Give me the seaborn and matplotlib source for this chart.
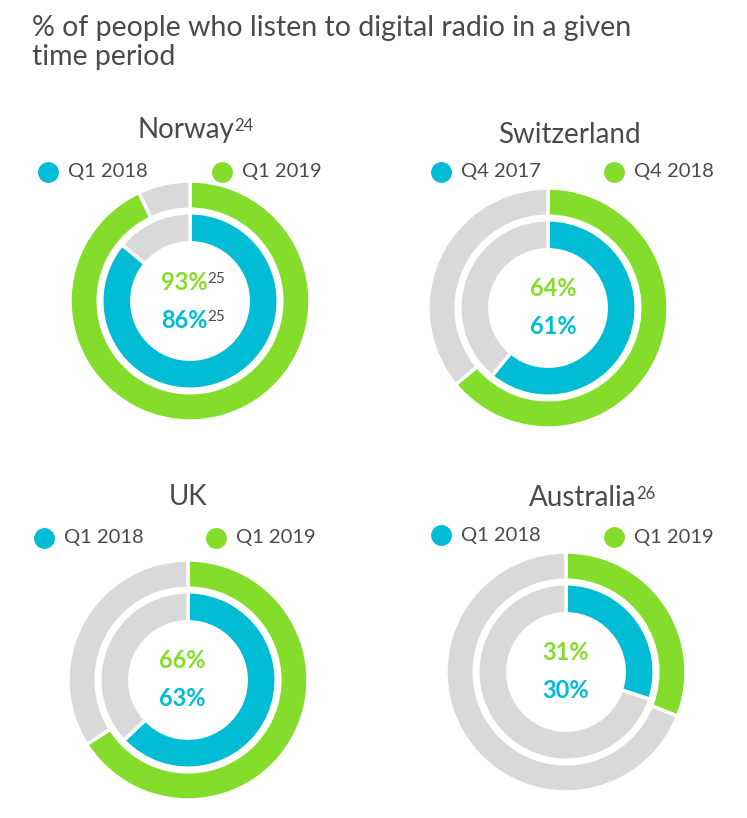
import matplotlib
matplotlib.use("Agg")
import matplotlib.pyplot as plt
from matplotlib.lines import Line2D
import seaborn as sns

# data
countries = ["Norway", "Switzerland", "UK", "Australia"]
title_notes = ["24", "", "", "26"]
inner_labels = ["Q1 2018", "Q4 2017", "Q1 2018", "Q1 2018"]
outer_labels = ["Q1 2019", "Q4 2018", "Q1 2019", "Q1 2019"]
inner_values = [86, 61, 63, 30]
outer_values = [93, 64, 66, 31]
value_notes = ["25", "", "", ""]

sns.set_theme(style="white")
plt.rcParams["font.family"] = ["Lato", "DejaVu Sans"]

TEAL = "#00BCD4"
GREEN = "#84DD2A"
GREY = "#D9D9D9"
TXT = "#4A4A4A"

W, H = 747, 818
fig = plt.figure(figsize=(W / 100, H / 100), dpi=100)
fig.patch.set_facecolor("white")

def px(x, y):
    return x / W, 1 - y / H

fig.text(*px(32, 28), "% of people who listen to digital radio in a given",
         fontsize=20.5, color=TXT, va="center", ha="left")
fig.text(*px(32, 57), "time period",
         fontsize=20.5, color=TXT, va="center", ha="left")

# layout (pixels): pie centre, title centre, legend dot positions
centres = [(190, 301), (548, 308), (188, 680), (566, 672)]
title_pos = [(186, 130), (569, 135), (188, 497), (583, 498)]
legend_pos = [((48, 172), (222, 172)), ((441, 172), (614, 172)),
              ((44, 538), (216, 538)), ((441, 535), (614, 537))]
val_x = [184, 553, 182, 566]
R = 120

for i, c in enumerate(countries):
    cx, cy = centres[i]
    ax = fig.add_axes([(cx - R) / W, 1 - (cy + R) / H, 2 * R / W, 2 * R / H])
    ax.pie([outer_values[i], 100 - outer_values[i]], colors=[GREEN, GREY],
           radius=1.0, startangle=90, counterclock=False,
           wedgeprops=dict(width=0.235, edgecolor="white", linewidth=2.5))
    ax.pie([inner_values[i], 100 - inner_values[i]], colors=[TEAL, GREY],
           radius=0.735, startangle=90, counterclock=False,
           wedgeprops=dict(width=0.25, edgecolor="white", linewidth=2.5))
    ax.set_xlim(-1, 1)
    ax.set_ylim(-1, 1)
    ax.set_aspect("equal")
    ax.axis("off")

    # country title
    tx, ty = title_pos[i]
    t = fig.text(*px(tx, ty), c, fontsize=20, color=TXT, ha="center", va="center")
    if title_notes[i]:
        ax.annotate(title_notes[i], xy=(0.995, 0.95), xycoords=t, fontsize=12,
                    color=TXT, ha="left", va="top", annotation_clip=False)

    # legend
    for (lx, ly), lab, col in zip(legend_pos[i], [inner_labels[i], outer_labels[i]], [TEAL, GREEN]):
        fig.add_artist(Line2D([lx / W], [1 - ly / H], marker="o", markersize=14,
                              color=col, linestyle="none", transform=fig.transFigure))
        fig.text(*px(lx + 20, ly), lab, fontsize=14.5, color=TXT, ha="left", va="center")

    # centre values
    vx = val_x[i]
    t1 = fig.text(*px(vx, cy - 19), f"{outer_values[i]}%", fontsize=17,
                  fontweight="bold", color=GREEN, ha="center", va="center")
    t2 = fig.text(*px(vx, cy + 19), f"{inner_values[i]}%", fontsize=17,
                  fontweight="bold", color=TEAL, ha="center", va="center")
    if value_notes[i]:
        for tt in (t1, t2):
            ax.annotate(value_notes[i], xy=(1.0, 0.95), xycoords=tt, fontsize=11,
                        color=TXT, ha="left", va="top", annotation_clip=False)

fig.savefig("out.png", dpi=100, facecolor="white")
